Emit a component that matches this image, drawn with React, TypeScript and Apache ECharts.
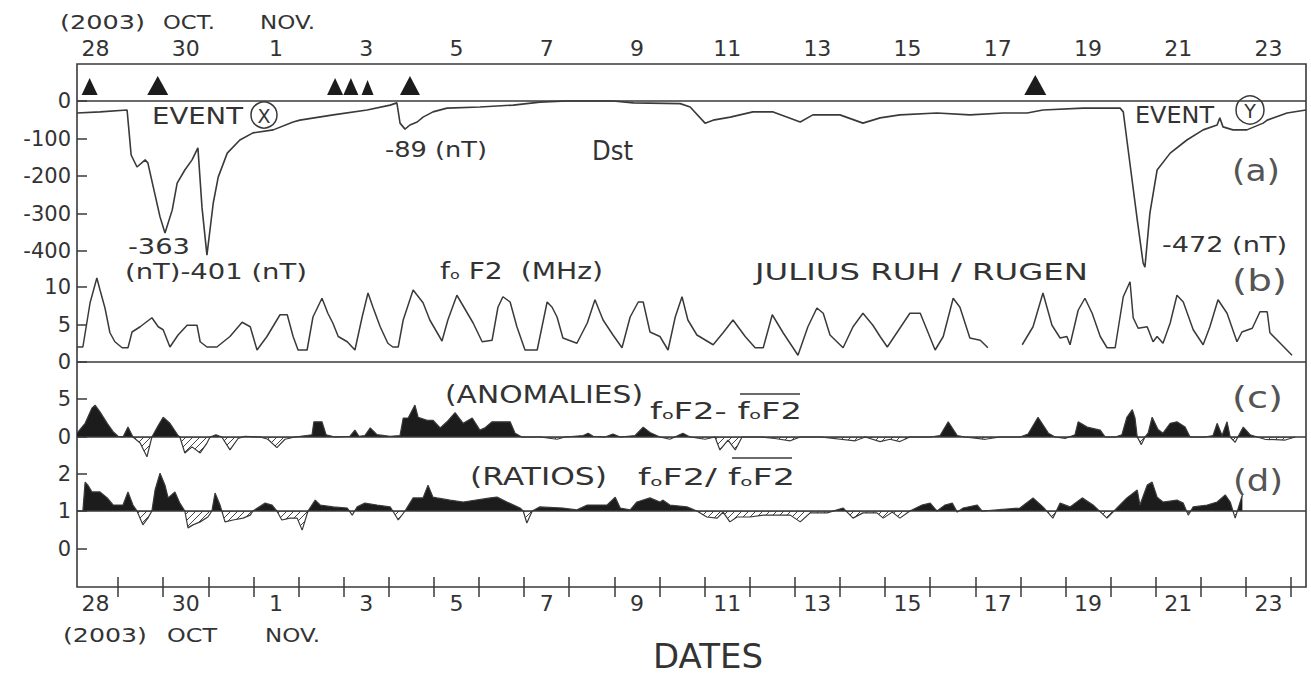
import { useEffect, useRef } from "react";
import * as echarts from "echarts";

// ---------- axis / tick data ----------
// x values are days since 2003-10-28 00:00 UT
const X_MIN = 0.09;
const X_MAX = 27.33;
const dayTicks = [1, 2, 3, 4, 5, 6, 7, 8, 9, 10, 11, 12, 13, 14, 15, 16, 17, 18, 19, 20, 21, 22, 23, 24, 25, 26, 27];
const dayLabels = ["28", "30", "1", "3", "5", "7", "9", "11", "13", "15", "17", "19", "21", "23"];
const dstTicks = [0, -100, -200, -300, -400];
const foF2Ticks = [0, 5, 10];
const anomalyTicks = [0, 5];
const ratioTicksUpper = [2];
const ratioTicksLower = [1, 0];

// ---------- series ----------
const dst = [
  [0.09, -32], [0.6, -29], [1.2, -24], [1.24, -77], [1.29, -144], [1.42, -176], [1.6, -157], [1.66, -165],
  [1.78, -229], [1.93, -309], [2.04, -352], [2.2, -291], [2.31, -219], [2.48, -184], [2.64, -157], [2.77, -125],
  [2.86, -283], [2.97, -411], [3.11, -272], [3.22, -203], [3.42, -139], [3.7, -104], [3.99, -85], [4.44, -77],
  [4.88, -56], [5.03, -51], [5.77, -37], [6.52, -24], [7.03, -11], [7.18, -5], [7.25, -59], [7.36, -75],
  [7.47, -64], [7.63, -56], [7.76, -43], [7.98, -29], [8.29, -19], [9.02, -16], [9.76, -11], [10.35, -3],
  [10.95, 0], [11.97, 0], [12.42, -5], [13.46, -7], [13.68, -16], [14.01, -59], [14.19, -51], [14.57, -43],
  [15.07, -29], [15.52, -29], [16.12, -56], [16.4, -37], [17.0, -37], [17.51, -59], [17.89, -45], [18.33, -37],
  [19.15, -32], [19.88, -37], [20.62, -32], [21.15, -32], [21.5, -24], [22.39, -19], [23.21, -19], [23.28, -29],
  [23.36, -104], [23.59, -317], [23.72, -432], [23.76, -443], [23.87, -299], [24.03, -184], [24.32, -139],
  [24.69, -104], [25.05, -77], [25.36, -64], [25.42, -45], [25.49, -69], [25.71, -77], [26.02, -77],
  [26.38, -59], [26.47, -51], [26.91, -32], [27.33, -24],
];

const foF2 = [
  [0.09, 2.0], [0.22, 2.0], [0.38, 7.9], [0.53, 11.2], [0.6, 9.6], [0.71, 7.2], [0.82, 3.9], [0.93, 2.7],
  [1.09, 1.9], [1.22, 1.9], [1.31, 4.0], [1.49, 4.7], [1.75, 5.9], [1.89, 4.7], [2.0, 4.3], [2.15, 2.0],
  [2.33, 3.6], [2.53, 4.9], [2.75, 4.9], [2.82, 2.7], [2.97, 2.0], [3.19, 2.0], [3.48, 3.4], [3.75, 5.3],
  [3.93, 4.7], [4.08, 1.6], [4.3, 3.4], [4.59, 6.3], [4.75, 6.3], [4.88, 3.4], [4.99, 1.6], [5.19, 1.6],
  [5.32, 6.0], [5.52, 8.5], [5.65, 6.5], [5.76, 5.2], [5.88, 3.4], [6.08, 2.7], [6.25, 1.6], [6.41, 6.0],
  [6.54, 9.2], [6.65, 7.3], [6.81, 4.7], [6.98, 2.5], [7.09, 2.0], [7.21, 2.0], [7.32, 5.6], [7.54, 9.6],
  [7.76, 7.9], [7.91, 5.6], [8.18, 2.8], [8.31, 5.6], [8.51, 8.9], [8.87, 5.2], [9.07, 2.7], [9.29, 2.9],
  [9.42, 7.3], [9.53, 8.7], [9.69, 8.0], [9.84, 4.7], [10.02, 1.6], [10.29, 1.6], [10.51, 8.0], [10.62, 7.3],
  [10.73, 6.0], [10.86, 3.2], [11.17, 2.5], [11.4, 5.2], [11.57, 8.3], [11.75, 5.6], [11.97, 3.6], [12.17, 1.9],
  [12.35, 6.0], [12.53, 8.0], [12.64, 8.0], [12.79, 4.0], [13.01, 3.4], [13.19, 1.6], [13.35, 6.0], [13.5, 8.7],
  [13.63, 5.6], [13.83, 3.6], [14.19, 2.3], [14.41, 3.9], [14.63, 5.6], [14.9, 3.4], [15.12, 1.9], [15.3, 1.9],
  [15.5, 6.3], [15.74, 3.9], [16.07, 0.9], [16.29, 4.7], [16.49, 7.2], [16.63, 6.5], [16.78, 3.6], [17.07, 1.9],
  [17.29, 4.7], [17.51, 6.5], [17.73, 4.9], [17.89, 3.4], [18.05, 2.0], [18.55, 6.5], [18.78, 6.5], [19.11, 1.6],
  [19.29, 3.4], [19.51, 8.5], [19.66, 7.3], [19.88, 3.2], [20.11, 2.9], [20.28, 1.9], [20.6, null],
  [21.04, 2.3], [21.28, 4.7], [21.5, 9.2], [21.7, 4.9], [21.88, 3.2], [22.03, 3.4], [22.1, 2.3], [22.28, 6.9],
  [22.43, 8.5], [22.59, 6.5], [22.77, 3.4], [22.92, 1.9], [23.1, 1.9], [23.28, 8.7], [23.43, 10.7], [23.5, 5.9],
  [23.61, 4.5], [23.81, 4.7], [23.94, 2.7], [24.03, 3.4], [24.16, 2.5], [24.32, 5.2], [24.47, 8.9], [24.61, 8.0],
  [24.83, 4.3], [25.05, 2.3], [25.2, 4.7], [25.38, 8.3], [25.58, 6.5], [25.8, 2.7], [25.91, 4.0], [26.14, 4.5],
  [26.31, 6.7], [26.47, 6.7], [26.53, 3.9], [26.76, 2.5], [27.02, 0.9],
];

const anomalies = [
  [0.09, 0.5], [0.27, 1.8], [0.42, 3.8], [0.49, 4.2], [0.6, 3.3], [0.76, 1.8], [0.89, 0.7], [1.0, 0.1],
  [1.11, 0], [1.22, 1.3], [1.33, 0], [1.49, -0.8], [1.64, -2.6], [1.75, 0], [1.89, 1.5], [2.0, 2.6],
  [2.15, 1.8], [2.33, 0.2], [2.37, 0], [2.48, -2.1], [2.64, -1.3], [2.82, -2.1], [2.97, -0.8], [3.04, 0],
  [3.17, 0.3], [3.3, 0], [3.48, -1.7], [3.66, -0.2], [3.81, 0.1], [4.15, 0], [4.32, -0.3], [4.52, -1.4],
  [4.7, -0.3], [4.92, 0], [5.3, 0.3], [5.34, 2.0], [5.52, 2.0], [5.61, 0.3], [5.81, 0], [6.14, 0.1],
  [6.25, 0.9], [6.34, 0.1], [6.47, 0.2], [6.59, 1.2], [6.74, 0.3], [7.03, 0.1], [7.25, 0.2], [7.32, 2.5],
  [7.43, 2.5], [7.58, 4.2], [7.65, 2.6], [7.85, 2.2], [7.98, 2.2], [8.14, 1.2], [8.29, 2.0], [8.47, 3.2],
  [8.65, 1.8], [8.85, 2.5], [9.02, 0.9], [9.13, 1.2], [9.29, 2.0], [9.69, 2.0], [9.8, 0.5], [9.95, 0],
  [10.35, 0], [10.73, -0.3], [10.91, 0], [11.31, 0.2], [11.42, 0.5], [11.53, 0.1], [11.79, 0], [11.97, 0.4],
  [12.13, 0], [12.46, 0.2], [12.64, 1.3], [12.79, 0.6], [13.01, 0], [13.23, -0.3], [13.52, 0.5], [13.68, 0],
  [14.01, -0.3], [14.23, 0], [14.34, -1.7], [14.52, -0.4], [14.68, -1.7], [14.83, 0], [15.23, 0], [15.56, -0.2],
  [15.9, -0.5], [16.12, 0], [16.56, 0], [17.34, -0.5], [17.56, 0], [17.89, -0.6], [18.11, -0.3], [18.33, -0.6],
  [18.55, 0], [19.0, 0], [19.22, 0.2], [19.4, 2.0], [19.6, 0.2], [19.77, 0], [20.22, -0.3], [20.55, 0],
  [20.99, 0], [21.17, 0.4], [21.39, 2.6], [21.62, 0.5], [21.77, 0], [21.99, -0.2], [22.21, 0.3], [22.28, 2.0],
  [22.48, 1.3], [22.77, 0.9], [22.88, 0], [23.1, 0], [23.25, 0.3], [23.36, 2.6], [23.48, 3.6], [23.54, 2.5],
  [23.59, 0], [23.68, -1.0], [23.76, 0], [23.83, 0.5], [23.92, 2.6], [24.05, 1.0], [24.16, 0.5], [24.32, 1.8],
  [24.47, 2.0], [24.65, 1.3], [24.76, 0], [25.09, 0], [25.27, 0.2], [25.36, 1.8], [25.47, 0.2], [25.58, 2.0],
  [25.65, 0], [25.76, -0.7], [25.82, 0], [25.94, 1.3], [26.09, 0.3], [26.25, 0], [26.42, -0.3], [26.87, -0.4],
  [27.09, 0],
];

const ratios = [
  [0.22, 1.0], [0.27, 1.77], [0.33, 1.69], [0.42, 1.51], [0.6, 1.51], [0.76, 1.35], [0.89, 1.16], [1.11, 1.16],
  [1.22, 1.51], [1.33, 1.16], [1.42, 1.0], [1.55, 0.63], [1.66, 0.81], [1.75, 1.0], [1.82, 1.56], [1.93, 2.01],
  [2.04, 1.69], [2.11, 1.35], [2.26, 1.51], [2.37, 1.21], [2.48, 1.0], [2.55, 0.55], [2.66, 0.63], [2.82, 0.71],
  [2.99, 0.84], [3.08, 1.0], [3.15, 1.48], [3.26, 1.16], [3.3, 1.0], [3.37, 0.71], [3.55, 0.76], [3.77, 0.81],
  [3.93, 0.89], [3.99, 1.0], [4.26, 1.21], [4.41, 1.16], [4.52, 1.0], [4.63, 0.76], [4.81, 0.81], [4.97, 0.81],
  [5.08, 0.49], [5.21, 1.0], [5.37, 1.29], [5.48, 1.16], [5.77, 1.11], [6.08, 1.08], [6.19, 0.89], [6.3, 1.11],
  [6.47, 1.21], [6.74, 1.16], [7.03, 1.11], [7.09, 1.0], [7.21, 0.76], [7.36, 1.0], [7.54, 1.35], [7.76, 1.35],
  [7.87, 1.69], [7.98, 1.37], [8.07, 1.35], [8.36, 1.29], [8.65, 1.24], [9.25, 1.35], [9.4, 1.37], [9.62, 1.24],
  [9.91, 1.08], [9.98, 1.0], [10.06, 0.68], [10.18, 1.0], [10.35, 1.11], [10.86, 1.08], [11.17, 1.03],
  [11.4, 1.16], [11.84, 1.16], [12.02, 1.37], [12.13, 1.08], [12.35, 1.03], [12.5, 1.24], [12.79, 1.35],
  [13.01, 1.24], [13.08, 1.29], [13.23, 1.16], [13.61, 1.11], [13.83, 1.0], [14.05, 0.84], [14.28, 0.81],
  [14.41, 0.97], [14.56, 0.71], [14.72, 0.84], [15.01, 0.84], [15.3, 0.89], [15.9, 0.89], [16.12, 0.71],
  [16.34, 0.95], [16.72, 0.95], [17.07, 1.08], [17.29, 0.81], [17.51, 0.95], [17.82, 0.95], [17.96, 0.81],
  [18.16, 0.97], [18.33, 0.81], [18.55, 1.0], [18.82, 1.16], [19.0, 1.21], [19.15, 1.0], [19.33, 1.16],
  [19.49, 1.21], [19.6, 0.97], [19.73, 1.08], [20.04, 1.16], [20.15, 1.0], [20.99, 1.08], [21.28, 1.35],
  [21.5, 1.11], [21.72, 0.81], [21.88, 1.21], [22.1, 1.11], [22.37, 1.35], [22.61, 1.16], [22.92, 0.81],
  [23.14, 1.08], [23.36, 1.35], [23.59, 1.56], [23.65, 1.16], [23.81, 1.69], [23.92, 1.77], [24.03, 1.37],
  [24.16, 1.24], [24.47, 1.29], [24.61, 1.21], [24.72, 0.89], [24.83, 1.11], [25.14, 1.16], [25.36, 1.24],
  [25.54, 1.43], [25.65, 1.24], [25.76, 0.81], [25.92, 1.43],
];

// sudden commencement / event markers (days)
const eventDays = [0.37, 1.88, 5.81, 6.16, 6.53, 7.47, 21.33];

// ---------- styling ----------
const FONT = "DejaVu Sans";
const INK = "#333333";
const STROKE = "#3a3a3a";
const FILL = "#1c1c1c";
const L = 77;
const W = 1229;
const eventMarkerSizes = [[16, 17], [21, 19], [16, 17], [15, 17], [12, 15], [20, 19], [22, 20]];

let measureCtx: CanvasRenderingContext2D | null = null;
function measure(t: string, fs: number) {
  if (!measureCtx) measureCtx = document.createElement("canvas").getContext("2d");
  measureCtx!.font = `${fs}px "${FONT}"`;
  return measureCtx!.measureText(t).width || t.length * fs * 0.6;
}

function fit(t: string, x0: number, x1: number, yc: number, fs: number, fill = INK) {
  const w = measure(t, fs);
  return {
    type: "text",
    x: x0,
    y: yc,
    scaleX: (x1 - x0) / w,
    silent: true,
    style: { text: t, fontSize: fs, fontFamily: FONT, fill, align: "left", verticalAlign: "middle" },
  };
}

function seq(parts: { t: string; fs: number; dy?: number }[], x0: number, x1: number, yc: number) {
  const ws = parts.map((p) => measure(p.t, p.fs));
  const total = ws.reduce((a, b) => a + b, 0);
  const s = (x1 - x0) / total;
  let x = x0;
  return parts.map((p, i) => {
    const el = {
      type: "text",
      x,
      y: yc + (p.dy || 0),
      scaleX: s,
      silent: true,
      style: { text: p.t, fontSize: p.fs, fontFamily: FONT, fill: INK, align: "left", verticalAlign: "middle" },
    };
    x += ws[i] * s;
    return el;
  });
}

function makeHatch() {
  const c = document.createElement("canvas");
  c.width = 7;
  c.height = 7;
  const g = c.getContext("2d")!;
  g.strokeStyle = "#444";
  g.lineWidth = 1;
  g.beginPath();
  g.moveTo(0, 7);
  g.lineTo(7, 0);
  g.moveTo(-1, 1);
  g.lineTo(1, -1);
  g.moveTo(6, 8);
  g.lineTo(8, 6);
  g.stroke();
  return { image: c.toDataURL(), repeat: "repeat", imageWidth: 7, imageHeight: 7 };
}

function yAx(gridIndex: number, min: number, max: number, ticks: number[] | null) {
  return {
    type: "value",
    gridIndex,
    min,
    max,
    axisLine: { show: false },
    splitLine: { show: false },
    axisTick: ticks
      ? { show: true, inside: true, length: 10, customValues: ticks, lineStyle: { color: STROKE, width: 1.5 } }
      : { show: false },
    axisLabel: ticks
      ? { show: true, customValues: ticks, margin: 6, fontSize: 21, fontFamily: FONT, color: INK }
      : { show: false },
  };
}

function baseLine(v: number) {
  return {
    silent: true,
    symbol: ["none", "none"],
    label: { show: false },
    lineStyle: { color: STROKE, width: 1.6, type: "solid" },
    data: [{ yAxis: v }],
  };
}

function buildOption() {
  const hatch = makeHatch();
  const labelDays = dayLabels.map((_, i) => 0.5 + 2 * i);
  const dateAxis = (position: string) => ({
    type: "value",
    gridIndex: 0,
    position,
    min: X_MIN,
    max: X_MAX,
    axisLine: { show: false },
    splitLine: { show: false },
    axisTick: { show: true, inside: true, length: 10, customValues: dayTicks, lineStyle: { color: STROKE, width: 1.5 } },
    axisLabel: {
      show: true,
      customValues: labelDays,
      margin: 5,
      fontSize: 22,
      fontFamily: FONT,
      color: INK,
      formatter: (v: number) => dayLabels[Math.round((v - 0.5) / 2)] ?? "",
    },
  });
  const hiddenX = (gridIndex: number) => ({ type: "value", gridIndex, min: X_MIN, max: X_MAX, show: false });

  const grids = [
    { left: L, width: W, top: 64, height: 523, show: true, borderColor: STROKE, borderWidth: 1.6, backgroundColor: "transparent" },
    { left: L, width: W, top: 64, height: 214 },
    { left: L, width: W, top: 272, height: 90 },
    { left: L, width: W, top: 362, height: 75 },
    { left: L, width: W, top: 437, height: 35 },
    { left: L, width: W, top: 437, height: 74 },
    { left: L, width: W, top: 511, height: 76 },
  ];

  const lineBase = { type: "line", showSymbol: false, symbol: "none", clip: true, silent: true };

  const graphic: any[] = [
    fit("(2003)", 60, 145, 22, 20),
    fit("OCT.", 163, 215, 22, 20),
    fit("NOV.", 260, 315, 22, 20),
    fit("(2003)", 63, 147, 635, 20),
    fit("OCT", 167, 217, 635, 20),
    fit("NOV.", 265, 320, 635, 20),
    fit("DATES", 653, 763, 657, 33),
    fit("EVENT", 152, 243, 116, 23),
    { type: "circle", shape: { cx: 264, cy: 115, r: 13 }, style: { fill: "none", stroke: STROKE, lineWidth: 1.5 } },
    { type: "text", x: 264, y: 116, style: { text: "X", fontSize: 19, fontFamily: FONT, fill: INK, align: "center", verticalAlign: "middle" } },
    fit("EVENT", 1135, 1214, 115, 23),
    { type: "circle", shape: { cx: 1250, cy: 110, r: 14 }, style: { fill: "none", stroke: STROKE, lineWidth: 1.5 } },
    { type: "text", x: 1250, y: 111, style: { text: "Y", fontSize: 19, fontFamily: FONT, fill: INK, align: "center", verticalAlign: "middle" } },
    fit("-89 (nT)", 385, 487, 150, 22),
    fit("Dst", 592, 633, 151, 27),
    fit("-363", 128, 190, 246, 22),
    fit("(nT)-401 (nT)", 125, 307, 271, 22),
    fit("-472 (nT)", 1162, 1287, 245, 21),
    ...seq([{ t: "f", fs: 23 }, { t: "o", fs: 13, dy: 4 }, { t: " F2  (MHz)", fs: 23 }], 440, 603, 271),
    fit("JULIUS RUH / RUGEN", 755, 1088, 272, 23),
    fit("(ANOMALIES)", 445, 643, 395, 24),
    ...seq(
      [{ t: "f", fs: 23 }, { t: "o", fs: 13, dy: 4 }, { t: "F2- ", fs: 23 }, { t: "f", fs: 23 }, { t: "o", fs: 13, dy: 4 }, { t: "F2", fs: 23 }],
      650, 802, 411
    ),
    { type: "line", shape: { x1: 740, y1: 394, x2: 800, y2: 394 }, style: { stroke: STROKE, lineWidth: 1.5 } },
    fit("(RATIOS)", 470, 607, 477, 24),
    ...seq(
      [{ t: "f", fs: 23 }, { t: "o", fs: 13, dy: 4 }, { t: "F2/ ", fs: 23 }, { t: "f", fs: 23 }, { t: "o", fs: 13, dy: 4 }, { t: "F2", fs: 23 }],
      638, 795, 477
    ),
    { type: "line", shape: { x1: 732, y1: 458, x2: 792, y2: 458 }, style: { stroke: STROKE, lineWidth: 1.5 } },
    fit("(a)", 1232, 1280, 171, 30, "#555"),
    fit("(b)", 1232, 1287, 281, 30, "#555"),
    fit("(c)", 1232, 1283, 398, 30, "#555"),
    fit("(d)", 1233, 1283, 481, 30, "#555"),
  ];

  return {
    animation: false,
    backgroundColor: "#ffffff",
    grid: grids,
    xAxis: [dateAxis("top"), dateAxis("bottom"), hiddenX(1), hiddenX(2), hiddenX(3), hiddenX(4), hiddenX(5), hiddenX(6)],
    yAxis: [
      { type: "value", gridIndex: 0, show: false, min: 0, max: 1 },
      yAx(1, -472, 98.67, dstTicks),
      yAx(2, 0, 12, foF2Ticks),
      yAx(3, 0, 75 / 7.6, anomalyTicks),
      yAx(4, -35 / 7.6, 0, null),
      yAx(5, 1, 1 + 74 / 37.5, ratioTicksUpper),
      yAx(6, 1 - 76 / 37.5, 1, ratioTicksLower),
    ],
    series: [
      {
        ...lineBase,
        name: "Dst",
        xAxisIndex: 2,
        yAxisIndex: 1,
        data: dst,
        lineStyle: { color: STROKE, width: 1.6 },
        markLine: baseLine(0),
      },
      {
        type: "scatter",
        name: "events",
        xAxisIndex: 2,
        yAxisIndex: 1,
        silent: true,
        symbol: "triangle",
        data: eventDays.map((d, i) => ({
          value: [d, 16],
          symbolSize: eventMarkerSizes[i],
          symbolOffset: [0, -eventMarkerSizes[i][1] / 2],
        })),
        itemStyle: { color: FILL, opacity: 1 },
      },
      {
        ...lineBase,
        name: "foF2",
        xAxisIndex: 3,
        yAxisIndex: 2,
        data: foF2,
        connectNulls: false,
        lineStyle: { color: STROKE, width: 1.5 },
        markLine: baseLine(0),
      },
      {
        ...lineBase,
        name: "anomalies+",
        xAxisIndex: 4,
        yAxisIndex: 3,
        data: anomalies,
        lineStyle: { color: STROKE, width: 1.2 },
        areaStyle: { color: FILL, opacity: 1, origin: "start" },
        markLine: baseLine(0),
      },
      {
        ...lineBase,
        name: "anomalies-",
        xAxisIndex: 5,
        yAxisIndex: 4,
        data: anomalies,
        lineStyle: { color: STROKE, width: 1.2 },
        areaStyle: { color: hatch, opacity: 1, origin: "end" },
      },
      {
        ...lineBase,
        name: "ratios+",
        xAxisIndex: 6,
        yAxisIndex: 5,
        data: ratios,
        lineStyle: { color: STROKE, width: 1.2 },
        areaStyle: { color: FILL, opacity: 1, origin: "start" },
        markLine: baseLine(1),
      },
      {
        ...lineBase,
        name: "ratios-",
        xAxisIndex: 7,
        yAxisIndex: 6,
        data: ratios,
        lineStyle: { color: STROKE, width: 1.2 },
        areaStyle: { color: hatch, opacity: 1, origin: "end" },
      },
    ],
    graphic,
  };
}

export default function App() {
  const ref = useRef<HTMLDivElement>(null);
  useEffect(() => {
    const el = ref.current;
    if (!el) return;
    const chart = echarts.init(el, undefined, { renderer: "svg" });
    chart.setOption(buildOption() as any);
    return () => chart.dispose();
  }, []);
  return (
    <div
      ref={ref}
      style={{ position: "absolute", left: 0, top: 0, width: 1311, height: 677, background: "#ffffff" }}
    />
  );
}
